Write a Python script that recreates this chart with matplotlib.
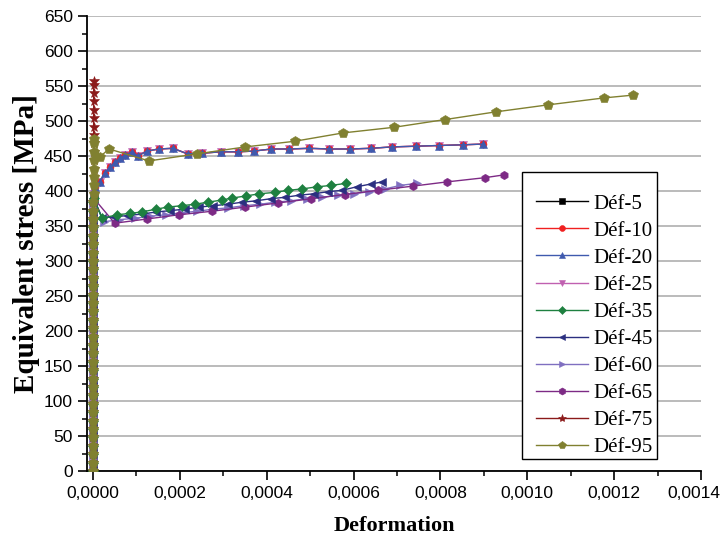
import numpy as np
import matplotlib
matplotlib.use("Agg")
import matplotlib.pyplot as plt
from matplotlib.ticker import MultipleLocator, FuncFormatter
from matplotlib.patches import Rectangle

# shared elastic branch (all runs climb the same near-vertical line at strain ~ 0)
elastic_stress = [0, 12, 24, 36, 48, 60, 72, 84, 96, 108, 120, 132, 144, 156, 168, 180,
                  192, 204, 216, 228, 240, 252, 264, 276, 288, 300, 312, 324, 336, 348,
                  360, 372, 384, 396, 408, 420, 432, 444, 456, 468, 480, 492, 504, 516,
                  528, 540, 552]
elastic_strain_u = [0.00, 0.04, 0.07, 0.11, 0.14, 0.18, 0.22, 0.25, 0.29, 0.32, 0.36, 0.40,
                    0.43, 0.47, 0.50, 0.54, 0.58, 0.61, 0.65, 0.68, 0.72, 0.76, 0.79, 0.83,
                    0.86, 0.90, 0.94, 0.97, 1.01, 1.04, 1.08, 1.12, 1.15, 1.19, 1.22, 1.26,
                    1.30, 1.33, 1.37, 1.40, 1.44, 1.48, 1.51, 1.55, 1.58, 1.62, 1.66]

# plastic branches, strain in 1e-6
upper_strain_u = [4.6, 16, 27.5, 39, 50.5, 62, 73.4, 89.5, 103, 124, 151, 184, 218, 252,
                  294, 333, 370, 411, 452, 498, 544, 592, 640, 689, 744, 796, 851, 897]
upper_stress = [406, 413, 426, 434, 441, 447, 451, 456, 450, 457, 460, 461, 453, 454,
                456, 456, 457, 460, 460, 461, 460, 460, 461, 463, 464, 465, 466, 467]

d35_strain_u = [1.3, 20.7, 55, 85, 112, 145, 172, 204, 234, 264, 296, 321, 353, 383, 418,
                450, 482, 516, 549, 583]
d35_stress = [390, 361, 366, 368, 370, 374, 377, 379, 381, 384, 387, 390, 393, 396, 398,
              401, 403, 406, 408, 411]

d45_strain_u = [1.3, 20.7, 48, 80, 112, 145, 178, 211, 244, 277, 310, 343, 376, 409, 442,
                475, 508, 541, 574, 607, 640, 666]
d45_stress = [390, 362, 363, 365, 367, 370, 372, 374, 377, 379, 381, 384, 386, 389, 391,
              394, 396, 399, 401, 406, 410, 413]

d60_strain_u = [1.3, 25, 60, 96, 132, 168, 204, 240, 276, 312, 348, 384, 420, 456, 492,
                528, 564, 600, 636, 672, 708, 746]
d60_stress = [390, 356, 359, 361, 364, 366, 369, 371, 374, 376, 379, 381, 384, 386, 389,
              391, 394, 396, 399, 403, 408, 411]

d65_strain_u = [1.3, 50, 124, 197, 273, 350, 427, 503, 580, 656, 737, 815, 902, 946]
d65_stress = [390, 354, 360, 366, 371, 377, 383, 389, 395, 401, 407, 413, 419, 423]

d75_strain_u = [1.70]
d75_stress = [557]

d95_strain_u = [1.5, 16, 37, 129, 239, 351, 464, 576, 693, 810, 927, 1047, 1177, 1244]
d95_stress = [474, 449, 460, 443, 453, 463, 471, 483, 491, 502, 513, 523, 533, 537]

labels = ['Déf-5', 'Déf-10', 'Déf-20', 'Déf-25', 'Déf-35', 'Déf-45', 'Déf-60',
          'Déf-65', 'Déf-75', 'Déf-95']
colors = ['#000000', '#F02020', '#3F5AAE', '#C060B0', '#1E8040', '#2B2F80',
          '#7F6FC0', '#7D2A85', '#8B1A1A', '#808030']
markers = ['s', 'o', '^', 'v', 'D', '<', '>', 'h', '*', 'p']
msizes = [4.5, 5, 5.5, 5.5, 5, 5.5, 5.5, 6, 7, 7]
zorders = [2.0, 2.1, 2.3, 2.05, 2.6, 2.5, 2.4, 2.45, 2.7, 2.8]


def build(n_el, extra_x, extra_y):
    x = list(elastic_strain_u[:n_el]) + list(extra_x)
    y = list(elastic_stress[:n_el]) + list(extra_y)
    return np.array(x) * 1e-6, np.array(y)


series = [
    build(34, [], []),
    build(34, upper_strain_u, upper_stress),
    build(34, upper_strain_u, upper_stress),
    build(34, upper_strain_u, upper_stress),
    build(33, d35_strain_u, d35_stress),
    build(33, d45_strain_u, d45_stress),
    build(33, d60_strain_u, d60_stress),
    build(33, d65_strain_u, d65_stress),
    build(47, d75_strain_u, d75_stress),
    build(40, d95_strain_u, d95_stress),
]

plt.rcParams['font.family'] = ['Liberation Sans', 'DejaVu Sans']
fig = plt.figure(figsize=(7.21, 5.43), dpi=100)
ax = fig.add_axes([87 / 721, 1 - 471 / 543, 614 / 721, 455 / 543])

for (x, y), lab, c, m, ms, z in zip(series, labels, colors, markers, msizes, zorders):
    ax.plot(x, y, color=c, marker=m, markersize=ms, lw=1.0, label=lab,
            markeredgewidth=0.4, markeredgecolor=c, zorder=z)

ax.set_xlim(-0.0000138, 0.0014)
ax.set_ylim(0, 650)
ax.xaxis.set_major_locator(MultipleLocator(0.0002))
ax.xaxis.set_minor_locator(MultipleLocator(0.0001))
ax.yaxis.set_major_locator(MultipleLocator(50))
ax.yaxis.set_minor_locator(MultipleLocator(25))


def xfmt(v, p):
    if v > 0.00139:
        return ''  # drawn separately so it stays inside the picture
    return ('%.4f' % v).replace('.', ',')


ax.xaxis.set_major_formatter(FuncFormatter(xfmt))
ax.tick_params(which='major', length=6.5, width=1.2, labelsize=12.5, direction='out')
ax.tick_params(which='minor', length=3.5, width=1.1, direction='out')
ax.tick_params(axis='x', pad=4)
ax.annotate('0,0014', xy=(0.999, 0), xycoords=('figure fraction', 'axes fraction'),
            xytext=(0, -10.5), textcoords='offset points', ha='right', va='top',
            fontsize=12.5)

ax.grid(axis='y', which='major', color='#A8A8A8', lw=1.1)
ax.set_axisbelow(True)
ax.yaxis.get_gridlines()[-1].set_visible(False)
for s in ['top', 'right']:
    ax.spines[s].set_visible(False)
for s in ['left', 'bottom']:
    ax.spines[s].set_linewidth(1.3)

ax.set_xlabel('Deformation', family='Liberation Serif', fontweight='bold',
              fontsize=16, labelpad=11)
ax.set_ylabel('Equivalent stress [MPa]', family='Liberation Serif', fontweight='bold',
              fontsize=21, labelpad=3)

# legend box drawn as its own rectangle, entries without frame
box = Rectangle((522 / 721, 1 - 459 / 543), 135 / 721, 287 / 543, transform=fig.transFigure,
                facecolor='white', edgecolor='black', lw=1.0, zorder=4)
fig.add_artist(box)
leg = fig.legend(*ax.get_legend_handles_labels(), loc='upper left',
                 bbox_to_anchor=(536 / 721, 1 - 194 / 543), borderaxespad=0, borderpad=0,
                 prop={'family': 'Liberation Serif', 'size': 15}, frameon=False,
                 handlelength=2.5, labelspacing=0.36, handletextpad=0.25, markerscale=0.85)
leg.set_zorder(5)

fig.savefig('out.png', dpi=100)
